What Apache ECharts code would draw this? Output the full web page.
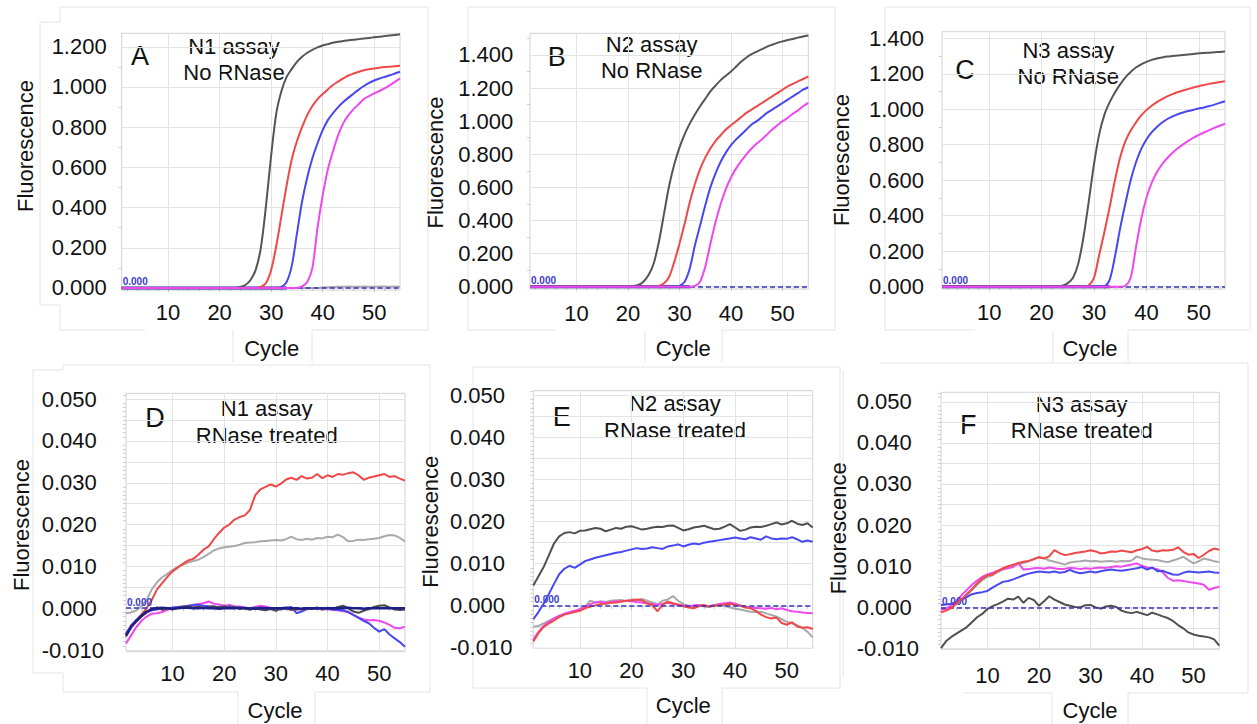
<!DOCTYPE html>
<html><head><meta charset="utf-8">
<script src="https://cdn.jsdelivr.net/npm/echarts@6/dist/echarts.min.js"></script>
<style>html,body{margin:0;padding:0;background:#fff}#c{width:1257px;height:724px}</style>
</head><body><div id="c"></div>
<script>
// ---------- data ----------
const cycles = [1,2,3,4,5,6,7,8,9,10,11,12,13,14,15,16,17,18,19,20,21,22,23,24,25,26,27,28,29,30,
  31,32,33,34,35,36,37,38,39,40,41,42,43,44,45,46,47,48,49,50,51,52,53,54,55];
const xTicks = [10,20,30,40,50];
const yTicksA = [0,0.2,0.4,0.6,0.8,1.0,1.2];
const yTicksBC = [0,0.2,0.4,0.6,0.8,1.0,1.2,1.4];
const yTicksDEF = [-0.01,0,0.01,0.02,0.03,0.04,0.05];
const yGridDEF = [-0.01,-0.005,0,0.005,0.01,0.015,0.02,0.025,0.03,0.035,0.04,0.045,0.05];
const thresholds = [0,0,0,0,0,0];

// Panel A: N1 assay, no RNase
const aBlack = [0,0,0,0,0,0,0,0,0,0, 0,0,0,0,0,0,0,0,0,0, 0,0,0,
  0.005,0.015,0.04,0.09,0.2,0.41,0.66,0.87,0.98,1.05,1.09,1.125,1.15,1.17,1.185,1.197,1.206,1.213,1.22,1.225,
  1.229,1.232,1.235,1.238,1.241,1.244,1.247,1.25,1.253,1.256,1.259,1.262];
const aRed = [0,0,0,0,0,0,0,0,0,0, 0,0,0,0,0,0,0,0,0,0, 0,0,0,0,0,0,0,
  0.005,0.025,0.09,0.21,0.36,0.51,0.64,0.73,0.8,0.86,0.905,0.94,0.965,0.988,1.01,1.027,1.043,1.057,1.067,
  1.076,1.083,1.088,1.092,1.096,1.099,1.101,1.103,1.105];
const aBlue = [0,0,0,0,0,0,0,0,0,0, 0,0,0,0,0,0,0,0,0,0, 0,0,0,0,0,0,0,0,0,0, 0,
  0.005,0.03,0.11,0.27,0.43,0.55,0.645,0.72,0.785,0.835,0.87,0.9,0.925,0.947,0.967,0.987,1.005,1.02,1.032,
  1.042,1.05,1.058,1.067,1.076];
const aMagenta = [0,0,0,0,0,0,0,0,0,0, 0,0,0,0,0,0,0,0,0,0, 0,0,0,0,0,0,0,0,0,0, 0,0,0,0,0,
  0.008,0.03,0.1,0.3,0.46,0.59,0.68,0.76,0.82,0.86,0.89,0.915,0.94,0.955,0.968,0.98,0.993,1.008,1.025,1.043];
const aGray = [0,0,0,0,0,0,0,0,0,0, 0,0,0,0,0,0,0,0,0,0, 0,0,0,0,0,0,0,0,0,0, 0,0,0,0,0,0,0,0,0,
  0.003,0.004,0.005,0.006,0.006,0.007,0.006,0.006,0.007,0.006,0.006,0.007,0.007,0.006,0.007,0.006];
const aNavy = [0,0,0,0,0,0,0,0,0,0, 0,0,0,0,0,0,0,0,0,0, 0,0,0,0,0,0,0,0,0,0, 0,0,0];

// Panel B: N2 assay, no RNase
const bBlack = [0,0,0,0,0,0,0,0,0,0, 0,0,0,0,0,0,0,0,0,0,
  0.003,0.01,0.03,0.07,0.14,0.27,0.44,0.61,0.74,0.84,0.92,0.985,1.04,1.09,
  1.135,1.18,1.215,1.248,1.275,1.3,1.33,1.36,1.385,1.405,1.42,1.435,1.45,1.462,1.473,1.482,1.49,1.497,1.505,1.512,1.518];
const bRed = [0,0,0,0,0,0,0,0,0,0, 0,0,0,0,0,0,0,0,0,0, 0,0,0,0,0,
  0.005,0.02,0.06,0.15,0.26,0.38,0.51,0.62,0.71,0.78,0.835,0.88,
  0.915,0.95,0.975,1.0,1.025,1.05,1.07,1.09,1.11,1.13,1.15,1.17,1.19,1.21,1.225,1.24,1.255,1.27];
const bBlue = [0,0,0,0,0,0,0,0,0,0, 0,0,0,0,0,0,0,0,0,0, 0,0,0,0,0,0,0,0,0,
  0.005,0.03,0.11,0.25,0.37,0.49,0.6,0.685,0.755,0.81,0.855,0.89,0.92,0.95,0.98,1.0,1.025,1.05,1.07,1.09,
  1.11,1.13,1.15,1.17,1.19,1.205];
const bMagenta = [0,0,0,0,0,0,0,0,0,0, 0,0,0,0,0,0,0,0,0,0, 0,0,0,0,0,0,0,0,0,0, 0,0,
  0.005,0.03,0.12,0.26,0.39,0.5,0.59,0.66,0.715,0.76,0.8,0.835,0.865,0.89,0.92,0.95,0.975,1.0,1.02,1.045,
  1.065,1.09,1.11];
const bNavy = [0,0,0,0,0,0,0,0,0,0, 0,0,0,0,0,0,0,0,0,0, 0,0,0,0,0,0,0,0,0,0, 0,0];

// Panel C: N3 assay, no RNase
const cBlack = [0,0,0,0,0,0,0,0,0,0, 0,0,0,0,0,0,0,0,0,0, 0,0,0,
  0.006,0.02,0.05,0.13,0.28,0.48,0.69,0.86,0.97,1.04,1.095,1.14,1.18,1.21,1.235,1.253,1.267,1.278,1.286,
  1.292,1.297,1.3,1.303,1.306,1.309,1.312,1.315,1.317,1.319,1.321,1.323,1.325];
const cRed = [0,0,0,0,0,0,0,0,0,0, 0,0,0,0,0,0,0,0,0,0, 0,0,0,0,0,0,0,0,
  0.008,0.05,0.18,0.31,0.45,0.6,0.73,0.82,0.88,0.925,0.965,0.995,1.02,1.04,1.057,1.072,1.085,1.097,1.106,
  1.115,1.123,1.13,1.137,1.143,1.148,1.153,1.158];
const cBlue = [0,0,0,0,0,0,0,0,0,0, 0,0,0,0,0,0,0,0,0,0, 0,0,0,0,0,0,0,0,0,0, 0,
  0.003,0.04,0.17,0.33,0.47,0.6,0.7,0.775,0.83,0.87,0.9,0.925,0.945,0.96,0.972,0.982,0.99,0.997,1.004,
  1.01,1.018,1.026,1.036,1.045];
const cMagenta = [0,0,0,0,0,0,0,0,0,0, 0,0,0,0,0,0,0,0,0,0, 0,0,0,0,0,0,0,0,0,0, 0,0,0,0,0,
  0.005,0.05,0.22,0.38,0.5,0.585,0.645,0.69,0.725,0.755,0.78,0.802,0.822,0.84,0.855,0.869,0.882,0.895,0.907,0.918];
const cNavy = [0,0,0,0,0,0,0,0,0,0, 0,0,0,0,0,0,0,0,0,0, 0,0,0,0,0,0,0,0,0,0, 0,0,0];

// Panel D: N1 assay, RNase treated
const dRed = [-0.0065,-0.004,-0.003,-0.0015,0.0,0.002,0.0045,0.006,0.0075,0.0088,
  0.0097,0.0106,0.0114,0.0118,0.0128,0.014,0.0148,0.0165,0.018,0.0193,
  0.02,0.0212,0.0218,0.0222,0.0235,0.027,0.0284,0.029,0.0296,0.0291,
  0.0298,0.0308,0.0312,0.0307,0.0316,0.031,0.0312,0.0321,0.0311,0.0318,
  0.0314,0.0321,0.0319,0.0323,0.0325,0.0318,0.0307,0.0312,0.0315,0.0318,
  0.0321,0.0314,0.0316,0.031,0.0305];
const dGray = [-0.0012,-0.001,-0.0005,0.0005,0.002,0.0045,0.0062,0.0074,0.0082,0.0091,
  0.0099,0.0104,0.0109,0.0113,0.0116,0.0122,0.013,0.0138,0.0143,0.0146,
  0.0147,0.0149,0.0152,0.0156,0.0157,0.0158,0.016,0.0161,0.0162,0.0163,
  0.0162,0.0165,0.0171,0.0165,0.0163,0.0166,0.0164,0.0168,0.0167,0.0171,
  0.017,0.0176,0.017,0.016,0.0161,0.0164,0.0163,0.0165,0.0166,0.0168,
  0.0172,0.0175,0.0174,0.0168,0.016];
const dBlack = [-0.0068,-0.0045,-0.0032,-0.002,-0.001,-0.0003,0.0002,-0.0004,-0.0001,-0.0003,
  0.0001,0.0003,0.0005,0.0002,0.0004,0.0,0.0003,0.0004,0.0002,0.0005,
  0.0001,0.0003,-0.0002,0.0,-0.0004,0.0001,-0.0003,-0.0005,-0.0002,-0.0006,
  -0.0001,0.0,-0.0004,-0.0002,-0.0003,0.0,-0.0002,0.0002,-0.0003,0.0001,
  -0.0002,0.0003,0.0006,0.0,-0.0008,-0.0011,-0.0006,-0.0002,0.0003,0.0006,
  0.0007,0.0002,-0.0003,-0.0004,-0.0003];
const dMagenta = [-0.0084,-0.0065,-0.0045,-0.003,-0.002,-0.0013,-0.0012,-0.0009,-0.0004,0.0,
  0.0002,0.0004,0.0004,0.0007,0.001,0.0012,0.0016,0.0011,0.0009,0.0006,
  0.0008,0.0005,0.0004,0.0002,0.0,0.0003,0.0006,0.0004,0.0001,-0.0001,
  0.0,-0.0002,-0.0004,-0.0003,-0.0002,0.0,-0.0002,-0.0001,-0.0003,-0.0002,
  -0.0004,-0.0005,-0.0007,-0.001,-0.0016,-0.0022,-0.0027,-0.0029,-0.0028,-0.003,
  -0.0034,-0.004,-0.0047,-0.0048,-0.0044];
const dBlue = [-0.006,-0.0042,-0.0028,-0.0018,-0.001,-0.0005,-0.0003,0.0,-0.0001,0.0002,
  0.0003,0.0004,0.0006,0.0008,0.0008,0.0006,0.0005,0.0004,0.0003,0.0002,
  0.0004,0.0002,0.0,0.0001,0.0,0.0001,0.0002,0.0001,-0.0002,-0.0001,
  -0.0003,0.0,0.0003,-0.0012,-0.0008,-0.0002,0.0,-0.0001,0.0,-0.0002,
  -0.0003,-0.0004,-0.0005,-0.0009,-0.0016,-0.0023,-0.003,-0.0036,-0.0047,-0.0056,
  -0.005,-0.0063,-0.0072,-0.0081,-0.0092];
const dNavy = [-0.0065,-0.0045,-0.003,-0.0018,-0.0008,-0.0002,0.0,0.0001,0.0,-0.0001,
  0.0,0.0001,0.0001,0.0,0.0,0.0001,0.0,0.0,-0.0001,0.0,
  0.0,0.0,0.0001,0.0,0.0,-0.0001,0.0,0.0,0.0,0.0,
  0.0,0.0001,0.0,0.0,-0.0001,0.0,0.0,0.0,0.0,0.0,
  0.0,0.0,0.0,0.0001,0.0,0.0,-0.0001,0.0,0.0,0.0,
  0.0,0.0,0.0,0.0,0.0];

// Panel E: N2 assay, RNase treated
const eBlack = [0.0048,0.007,0.0092,0.012,0.0148,0.0165,0.0173,0.0175,0.0172,0.0178,
  0.0179,0.0182,0.0185,0.0183,0.0177,0.0181,0.0185,0.0183,0.0188,0.0189,
  0.0185,0.0181,0.0183,0.0186,0.0188,0.0187,0.019,0.0191,0.0185,0.0179,
  0.0182,0.0186,0.0188,0.019,0.0186,0.0182,0.0183,0.0188,0.0194,0.0186,
  0.0178,0.0181,0.0186,0.0188,0.0187,0.019,0.0194,0.0198,0.0193,0.0196,
  0.0202,0.0195,0.0192,0.0196,0.0186];
const eBlue = [-0.0032,-0.0015,0.0005,0.0028,0.0052,0.0075,0.0088,0.0095,0.009,0.0098,
  0.0106,0.011,0.0114,0.0117,0.012,0.0123,0.0126,0.0128,0.0131,0.0134,
  0.0137,0.0135,0.0136,0.0139,0.0137,0.0135,0.0141,0.0143,0.0146,0.0141,
  0.0145,0.0148,0.0146,0.015,0.0152,0.0154,0.0156,0.0158,0.016,0.0162,
  0.016,0.0158,0.0163,0.016,0.0157,0.0165,0.016,0.0158,0.016,0.0159,
  0.0163,0.0158,0.0152,0.0155,0.0152];
const eRed = [-0.0085,-0.0065,-0.005,-0.0042,-0.0035,-0.0027,-0.0021,-0.0018,-0.0015,-0.0012,
  -0.0006,-0.0002,0.0001,0.0004,0.0005,0.0007,0.0008,0.001,0.0012,0.0013,
  0.0015,0.0013,0.0006,0.0002,-0.0013,0.0003,0.001,0.0006,0.0003,-0.0001,
  -0.0004,-0.0006,-0.0001,0.0002,-0.0002,0.0,0.0002,0.0003,0.0005,0.0002,
  0.0,-0.0004,-0.0006,-0.0012,-0.0021,-0.0027,-0.003,-0.0028,-0.0041,-0.0045,
  -0.0039,-0.0049,-0.0052,-0.0051,-0.0055];
const eMagenta = [-0.008,-0.0062,-0.0048,-0.0038,-0.003,-0.0024,-0.0019,-0.0015,-0.0012,-0.0008,
  -0.0003,0.0004,0.0008,0.0009,0.0007,0.0009,0.0011,0.001,0.0012,0.0011,
  0.0009,0.0008,0.0006,0.0004,0.0002,0.0005,0.0007,0.0004,0.0002,0.0001,
  -0.0001,0.0001,0.0002,0.0,-0.0001,0.0002,0.0004,0.0006,0.0008,0.0005,
  0.0001,-0.0002,-0.0004,-0.0005,-0.0006,-0.0007,-0.0005,-0.0008,-0.0006,-0.001,
  -0.0013,-0.0014,-0.0016,-0.0017,-0.0018];
const eGray = [-0.005,-0.0048,-0.0042,-0.0036,-0.003,-0.0024,-0.002,-0.0016,-0.0012,-0.0008,
  -0.0002,0.0012,0.0008,0.0011,0.0009,0.0012,0.0013,0.0014,0.0011,0.0015,
  0.0013,0.0016,0.0012,0.0008,0.0004,0.0012,0.0015,0.0023,0.0012,0.0004,
  0.0,-0.0004,0.0002,-0.0002,-0.0003,0.0001,0.0003,0.0,-0.0004,-0.0007,
  -0.0009,-0.0012,-0.0014,-0.0015,-0.0014,-0.0018,-0.0022,-0.0026,-0.0032,-0.0038,
  -0.0042,-0.0046,-0.0052,-0.0062,-0.0075];

// Panel F: N3 assay, RNase treated
const fRed = [-0.0012,-0.0008,-0.0002,0.001,0.002,0.0032,0.0044,0.0058,0.007,0.0078,
  0.008,0.0088,0.0095,0.01,0.0104,0.0108,0.0111,0.0113,0.0117,0.0122,
  0.0119,0.0124,0.0139,0.0132,0.0127,0.0129,0.0132,0.0134,0.0136,0.0139,
  0.0136,0.0131,0.0133,0.0136,0.0135,0.0138,0.0136,0.0134,0.0139,0.0142,
  0.0147,0.0138,0.0136,0.0139,0.0138,0.014,0.0146,0.0135,0.0128,0.013,
  0.012,0.0128,0.0137,0.0143,0.014];
const fGray = [-0.0003,-0.0004,0.0,0.0008,0.0018,0.003,0.0042,0.0055,0.0066,0.0074,
  0.0078,0.0086,0.0092,0.0097,0.0101,0.0105,0.0108,0.0112,0.0118,0.0122,
  0.012,0.0114,0.0111,0.0108,0.0104,0.0109,0.0111,0.0112,0.0114,0.0112,
  0.0113,0.0111,0.0112,0.0113,0.0111,0.0113,0.0112,0.0114,0.0124,0.0119,
  0.0117,0.0116,0.0115,0.0112,0.011,0.0114,0.0118,0.0123,0.0115,0.0107,
  0.0112,0.0119,0.0116,0.0112,0.011];
const fMagenta = [-0.0006,-0.0003,0.0005,0.0015,0.003,0.0042,0.0055,0.0065,0.0074,0.008,
  0.0084,0.0089,0.0093,0.0095,0.0098,0.0108,0.0092,0.0093,0.0095,0.0096,
  0.0094,0.0097,0.0095,0.0093,0.0094,0.0096,0.0095,0.0093,0.0095,0.0094,
  0.0096,0.0097,0.0096,0.0098,0.01,0.0099,0.0102,0.0104,0.0107,0.0101,
  0.0097,0.0095,0.0093,0.0085,0.0072,0.0065,0.0066,0.0064,0.0062,0.006,
  0.0058,0.0055,0.0043,0.0047,0.005];
const fBlue = [0.0006,0.0007,0.0009,0.0013,0.0019,0.0025,0.0032,0.0035,0.0037,0.004,
  0.0048,0.0055,0.0062,0.0064,0.0068,0.0073,0.0078,0.0082,0.0085,0.0087,
  0.0086,0.0085,0.0087,0.0084,0.0086,0.0091,0.0086,0.0083,0.0085,0.0087,
  0.0085,0.0088,0.009,0.0092,0.009,0.0089,0.0091,0.0093,0.0095,0.0098,
  0.0092,0.0097,0.0088,0.0089,0.0084,0.008,0.0079,0.0084,0.0087,0.0086,
  0.0085,0.0086,0.0087,0.0085,0.0084];
const fBlack = [-0.0099,-0.0082,-0.0072,-0.0064,-0.0056,-0.0048,-0.0036,-0.0024,-0.0016,-0.0004,
  0.0003,0.0008,0.0014,0.0021,0.0019,0.0026,0.0011,0.0023,0.0018,0.0004,
  0.0015,0.0027,0.0019,0.0013,0.0007,0.0004,0.0001,0.0,0.0005,0.0006,
  0.0,-0.0003,0.0002,0.0004,0.0001,-0.0008,-0.0012,-0.0014,-0.0011,-0.0015,
  -0.0019,-0.0013,-0.0017,-0.0022,-0.0026,-0.0033,-0.0043,-0.0051,-0.0061,-0.0066,
  -0.0069,-0.0071,-0.0073,-0.0078,-0.0093];

// ---------- styles / layout ----------
const C = {black:'#555555', red:'#f04848', blue:'#4848ee', magenta:'#ee48ee', gray:'#a9a9a9', navy:'#1e1e8a', thr:'#3434bc'};
const FONT = '"Liberation Sans", Arial, sans-serif';

const panels = [
  {grid:{left:121.7, top:33.3, width:278.3, height:256.7}, ymin:-0.01, ymax:1.267, split:6, minor:2,
   labels:yTicksA, gridVals:yTicksA, align:'right', lm:15, xm:11,
   series:[[aNavy,C.navy,3],[aGray,C.gray,2],[aBlack,C.black,2],[aRed,C.red,2],[aBlue,C.blue,2],[aMagenta,C.magenta,2]], smooth:0.3},
  {grid:{left:530, top:33.3, width:278.3, height:255.7}, ymin:-0.014, ymax:1.531, split:7, minor:2,
   labels:yTicksBC, gridVals:yTicksBC, align:'right', lm:16.7, xm:13,
   series:[[bNavy,C.navy,3],[bBlack,C.black,2],[bRed,C.red,2],[bBlue,C.blue,2],[bMagenta,C.magenta,2]], smooth:0.3},
  {grid:{left:942, top:31.7, width:283, height:257.3}, ymin:-0.013, ymax:1.437, split:7, minor:2,
   labels:yTicksBC, gridVals:yTicksBC, align:'right', lm:18, xm:12,
   series:[[cNavy,C.navy,3],[cBlack,C.black,2],[cRed,C.red,2],[cBlue,C.blue,2],[cMagenta,C.magenta,2]], smooth:0.3},
  {grid:{left:126, top:393.3, width:279, height:258.4}, ymin:-0.0104, ymax:0.0514, split:6, minor:10,
   labels:yTicksDEF, gridVals:yGridDEF, align:'left', lm:84.3, xm:11,
   series:[[dGray,C.gray,2],[dRed,C.red,2],[dMagenta,C.magenta,2],[dBlue,C.blue,2],[dBlack,'#4a4a4a',2],[dNavy,C.navy,2.5]], smooth:0},
  {grid:{left:533.3, top:390.7, width:279.4, height:257.6}, ymin:-0.0101, ymax:0.0511, split:6, minor:10,
   labels:yTicksDEF, gridVals:yGridDEF, align:'left', lm:83.3, xm:11,
   series:[[eGray,C.gray,2],[eMagenta,C.magenta,2],[eRed,C.red,2],[eBlue,C.blue,2],[eBlack,'#4f4f4f',2]], smooth:0},
  {grid:{left:941, top:392.3, width:278.3, height:257}, ymin:-0.0102, ymax:0.0523, split:6, minor:10,
   labels:yTicksDEF, gridVals:yGridDEF, align:'left', lm:84.3, xm:15,
   series:[[fGray,C.gray,2],[fBlack,'#505050',2],[fMagenta,C.magenta,2],[fBlue,C.blue,2],[fRed,C.red,2]], smooth:0}
];

const letters = [['A',140,56],['B',556.7,57.3],['C',965,70],['D',155,418.3],['E',561.7,416.7],['F',968.3,425]];
const titles = [
  ['N1 assay',234,46.7],['No RNase',234,72.7],
  ['N2 assay',651.7,44],['No RNase',651.7,70.7],
  ['N3 assay',1068.3,50],['No RNase',1068.3,76.7],
  ['N1 assay',266.7,408.3],['RNase treated',266.7,435],
  ['N2 assay',675,403.3],['RNase treated',675,430],
  ['N3 assay',1081.7,404],['RNase treated',1081.7,430.7]
];
const yNames = [[25,146],[435,162.5],[841.7,160],[21.7,525],[430,521.7],[838.3,528.3]];
const xNames = [[271.7,348.3],[683.3,348.3],[1090,348.3],[275,710],[683.3,705],[1090,710]];
const boxes = [
  [[60,22],[40,22],[40,305],[60,305],[60,330],[145,330]],
  [[60,22],[60,7],[428,7],[428,330],[312,330],[312,362]],
  [[233,330],[233,362]],
  [[468,7],[835,7],[835,330],[722,330],[722,362]],
  [[468,7],[468,330],[555,330]],
  [[645,330],[645,362]],
  [[885,7],[1250,7],[1250,330],[1128,330],[1128,362]],
  [[885,7],[885,330],[975,330]],
  [[1053,330],[1053,362]],
  [[63,365],[430,365],[430,692],[315,692],[315,724]],
  [[63,365],[63,370],[33,370],[33,673],[63,673],[63,692],[238,692],[238,724]],
  [[473,367],[840,367],[840,688],[722,688],[722,724]],
  [[473,367],[473,688],[647,688],[647,724]],
  [[880,363],[1248,363],[1248,693],[1128,693],[1128,724]],
  [[843,370],[843,677]],
  [[963,693],[1052,693],[1052,724]]
];

// ---------- build option ----------
const grids = [], xAxes = [], yAxes = [], series = [];
panels.forEach((p, i) => {
  grids.push(Object.assign({show:true, borderColor:'#d2d2d2', borderWidth:1, containLabel:false}, p.grid));
  xAxes.push({type:'value', gridIndex:i, min:1, max:55, splitNumber:5,
    axisLine:{show:false},
    axisTick:{show:true, customValues:xTicks, length:4, lineStyle:{color:'#bdbdbd'}},
    minorTick:{show:true, splitNumber:5, length:3, lineStyle:{color:'#c6c6c6'}},
    axisLabel:{customValues:xTicks, fontSize:22, fontFamily:FONT, color:'#111', margin:p.xm},
    splitLine:{show:true, lineStyle:{color:'#e3e3e3', width:1}}});
  yAxes.push({type:'value', gridIndex:i, min:p.ymin, max:p.ymax, splitNumber:p.split,
    axisLine:{show:false},
    axisTick:{show:false, customValues:p.gridVals},
    minorTick:{show:true, splitNumber:p.minor, length:3, lineStyle:{color:'#cfcfcf'}},
    axisLabel:{customValues:p.labels, formatter:(v)=>Number(v).toFixed(3), fontSize:22, fontFamily:FONT,
      color:'#111', margin:p.lm, align:p.align},
    splitLine:{show:true, lineStyle:{color:'#e3e3e3', width:1}}});
  p.series.forEach((s, k) => {
    const o = {type:'line', xAxisIndex:i, yAxisIndex:i, symbol:'none', showSymbol:false, smooth:p.smooth,
      silent:true, animation:false, data:s[0].map((v, j) => [cycles[j], v]),
      lineStyle:{color:s[1], width:s[2]}, itemStyle:{color:s[1]}, z:2+k};
    if (k === 0) {
      o.markLine = {silent:true, symbol:['none','none'], animation:false,
        data:[{yAxis:thresholds[i]}],
        lineStyle:{color:C.thr, type:[5,3], width:1.5},
        label:{show:true, position:'insideStartTop', formatter:'0.000', color:'#3c3cc8',
          fontSize:10, fontWeight:'bold', fontFamily:FONT, distance:1}};
    }
    series.push(o);
  });
});

const graphic = [];
boxes.forEach(pts => graphic.push({type:'polyline', silent:true, z:-1, shape:{points:pts},
  style:{stroke:'#e4e4e4', fill:null, lineWidth:1}}));
letters.forEach(([t,x,y]) => graphic.push({type:'text', x, y, silent:true,
  style:{text:t, font:'27px ' + FONT, fill:'#111', textAlign:'center', textVerticalAlign:'middle'}}));
titles.forEach(([t,x,y]) => graphic.push({type:'text', x, y, silent:true,
  style:{text:t, font:'22px ' + FONT, fill:'#111', textAlign:'center', textVerticalAlign:'middle'}}));
yNames.forEach(([x,y]) => graphic.push({type:'text', x, y, rotation:Math.PI/2, silent:true,
  style:{text:'Fluorescence', font:'22px ' + FONT, fill:'#111', textAlign:'center', textVerticalAlign:'middle'}}));
xNames.forEach(([x,y]) => graphic.push({type:'text', x, y, silent:true,
  style:{text:'Cycle', font:'22px ' + FONT, fill:'#111', textAlign:'center', textVerticalAlign:'middle'}}));

const chart = echarts.init(document.getElementById('c'), null, {renderer:'svg'});
chart.setOption({backgroundColor:'#fff', animation:false, grid:grids, xAxis:xAxes, yAxis:yAxes, series, graphic});
</script></body></html>
